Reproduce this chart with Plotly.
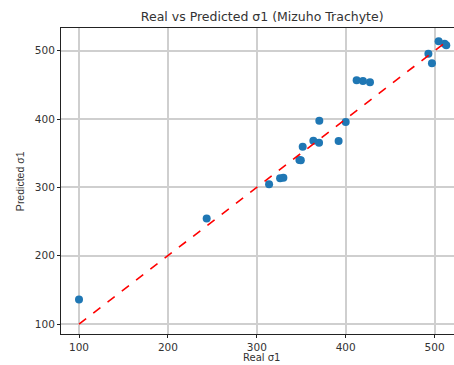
import plotly.graph_objects as go

real = [100, 243.6, 313.8, 326.2, 329.9, 347.9, 349.5, 351.6, 363.6, 370.0, 370.3,
        392.0, 400.0, 412.3, 419.4, 427.3, 493.0, 497.0, 504.5, 511.2, 513.1]
pred = [136, 254.6, 304.4, 313.2, 314.0, 340.0, 339.5, 359.4, 368.2, 365.2, 397.5,
        368.0, 395.5, 456.7, 455.7, 453.7, 495.5, 481.5, 513.7, 510.2, 508.0]
x_ticks = [100, 200, 300, 400, 500]
y_ticks = [100, 200, 300, 400, 500]

lo = min(min(real), min(pred))
hi = max(max(real), max(pred))

fig = go.Figure()
fig.add_trace(go.Scatter(
    x=real, y=pred, mode="markers",
    marker=dict(color="#1f77b4", size=8, line=dict(width=0)),
    showlegend=False, hoverinfo="skip"))
fig.add_trace(go.Scatter(
    x=[lo, hi], y=[lo, hi], mode="lines",
    line=dict(color="red", width=1.6, dash="dash"),
    showlegend=False, hoverinfo="skip"))

axis_common = dict(
    showline=True, linecolor="#222", linewidth=1, mirror=True,
    showgrid=True, gridcolor="#cfcfcf", gridwidth=1.6,
    ticks="outside", ticklen=3, tickcolor="#222", tickwidth=1,
    tickfont=dict(family="DejaVu Sans", size=10.5, color="#333"),
    zeroline=False, automargin=False,
)

fig.update_layout(
    width=454, height=365,
    margin=dict(l=61, r=0, t=28, b=31),
    paper_bgcolor="white", plot_bgcolor="white",
    title=dict(text="Real vs Predicted σ1 (Mizuho Trachyte)",
               x=0.512, xref="paper", xanchor="center",
               y=0.955, yref="container", yanchor="middle",
               font=dict(family="DejaVu Sans", size=12.5, color="#333")),
    xaxis=dict(range=[79.75, 521.8], tickvals=x_ticks, **axis_common),
    yaxis=dict(range=[85.4, 533.2], tickvals=y_ticks, **axis_common),
    annotations=[
        dict(text="Real σ1", xref="paper", yref="paper",
             x=0.511, y=-31 / 306, xanchor="center", yanchor="bottom",
             showarrow=False,
             font=dict(family="DejaVu Sans", size=10, color="#333")),
        dict(text="Predicted σ1", xref="paper", yref="paper",
             x=-0.104, y=0.5, xanchor="center", yanchor="middle",
             textangle=-90, showarrow=False,
             font=dict(family="Liberation Sans", size=10.5, color="#333")),
    ],
)

fig.write_html("out.html")
